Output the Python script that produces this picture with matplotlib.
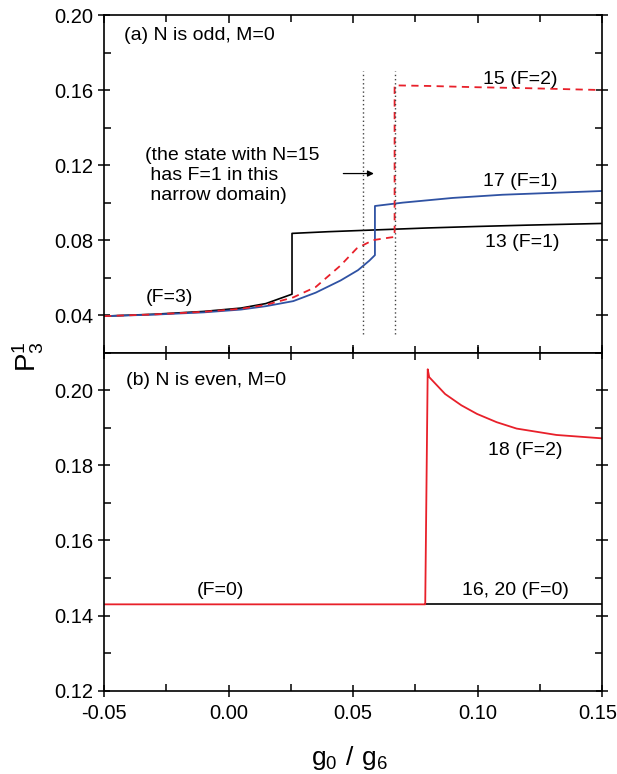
import matplotlib
matplotlib.use("Agg")
import matplotlib.pyplot as plt
import matplotlib.transforms as mtransforms
from matplotlib.ticker import MultipleLocator, FormatStrFormatter

plt.rcParams['font.family'] = ['Liberation Sans', 'DejaVu Sans']
plt.rcParams['mathtext.fontset'] = 'custom'
plt.rcParams['mathtext.rm'] = 'Liberation Sans'

# ---- panel (a): N odd, M=0 ----
x13 = [-0.05, -0.03, -0.01, 0.005, 0.015, 0.0255, 0.0255, 0.04, 0.06, 0.08, 0.10, 0.12, 0.15]
y13 = [0.0395, 0.0405, 0.042, 0.0438, 0.0462, 0.0512, 0.0836, 0.0845, 0.0855, 0.0865, 0.0873, 0.0880, 0.0889]

x17 = [-0.05, -0.03, -0.01, 0.005, 0.015, 0.026, 0.035, 0.045, 0.052, 0.0565, 0.0588, 0.0588,
       0.07, 0.09, 0.11, 0.13, 0.15]
y17 = [0.0395, 0.0403, 0.0415, 0.043, 0.0448, 0.0475, 0.052, 0.0585, 0.064, 0.069, 0.072, 0.0982,
       0.100, 0.1025, 0.1042, 0.1052, 0.1062]

x15 = [-0.05, -0.03, -0.01, 0.005, 0.015, 0.026, 0.035, 0.045, 0.0515, 0.058, 0.0649, 0.0667, 0.0667,
       0.08, 0.10, 0.12, 0.15]
y15 = [0.0395, 0.0404, 0.0418, 0.0434, 0.0455, 0.0495, 0.055, 0.0665, 0.0756, 0.080, 0.0814, 0.0817, 0.1625,
       0.1622, 0.1615, 0.161, 0.160]

dotted_x = [0.054, 0.0667]
dotted_y = [0.030, 0.170]

# ---- panel (b): N even, M=0 ----
x18 = [-0.05, 0.079, 0.0800, 0.0806, 0.087, 0.0935, 0.0998, 0.1077, 0.1157, 0.1317, 0.15]
y18 = [0.143, 0.143, 0.2056, 0.2035, 0.199, 0.196, 0.1937, 0.1915, 0.1898, 0.1881, 0.1872]

x1620 = [0.079, 0.15]
y1620 = [0.143, 0.143]

xticks = [-0.05, 0.0, 0.05, 0.10, 0.15]

red = '#e8202a'
blue = '#2f52a3'

fig = plt.figure(figsize=(6.17, 7.74), dpi=100)
ax1 = fig.add_axes([0.1686, 0.5443, 0.8071, 0.4363])
ax2 = fig.add_axes([0.1686, 0.1076, 0.8071, 0.4367], sharex=ax1)

ax1.plot(x13, y13, color='black', lw=1.2)
ax1.plot(x17, y17, color=blue, lw=1.3)
ax1.plot(x15, y15, color=red, lw=1.3, ls=(0, (4, 3)))
for xv in dotted_x:
    ax1.plot([xv, xv], dotted_y, color='#444444', lw=1.0, ls=(0, (1, 2)))

ax1.annotate('', xy=(0.0595, 0.1155), xytext=(0.045, 0.1155),
             arrowprops=dict(arrowstyle='-|>', color='black', lw=0.9, mutation_scale=9))

fs = 14
ax1.text(-0.0418, 0.189, '(a) N is odd, M=0', fontsize=fs, va='center')
ax1.text(-0.0335, 0.1145, '(the state with N=15\n has F=1 in this\n narrow domain)',
         fontsize=fs, va='center', linespacing=1.2)
ax1.text(0.1173, 0.1657, '15 (F=2)', fontsize=fs, ha='center', va='center')
ax1.text(0.117, 0.1111, '17 (F=1)', fontsize=fs, ha='center', va='center')
ax1.text(0.118, 0.0786, '13 (F=1)', fontsize=fs, ha='center', va='center')
ax1.text(-0.0239, 0.0494, '(F=3)', fontsize=fs, ha='center', va='center')

ax2.plot(x1620, y1620, color='black', lw=1.2)
ax2.plot(x18, y18, color=red, lw=1.3)
ax2.text(-0.041, 0.2025, '(b) N is even, M=0', fontsize=fs, va='center')
ax2.text(-0.0032, 0.1466, '(F=0)', fontsize=fs, ha='center', va='center')
ax2.text(0.1153, 0.1466, '16, 20 (F=0)', fontsize=fs, ha='center', va='center')
ax2.text(0.119, 0.1839, '18 (F=2)', fontsize=fs, ha='center', va='center')

ax1.set_xlim(-0.05, 0.15)
ax1.set_ylim(0.02, 0.20)
ax2.set_ylim(0.12, 0.21)

ax1.yaxis.set_major_locator(MultipleLocator(0.04))
ax1.yaxis.set_minor_locator(MultipleLocator(0.02))
ax2.yaxis.set_major_locator(MultipleLocator(0.02))
ax2.yaxis.set_minor_locator(MultipleLocator(0.01))
ax2.set_xticks(xticks)
ax2.xaxis.set_minor_locator(MultipleLocator(0.025))
ax2.xaxis.set_major_formatter(FormatStrFormatter('%.2f'))
ax1.yaxis.set_major_formatter(FormatStrFormatter('%.2f'))
ax2.yaxis.set_major_formatter(FormatStrFormatter('%.2f'))

for ax in (ax1, ax2):
    for s in ax.spines.values():
        s.set_linewidth(1.2)
    ax.tick_params(which='major', direction='inout', length=9, width=1.1,
                   top=True, right=True, labelsize=14.5)
    ax.tick_params(which='minor', direction='in', length=5, width=1.1,
                   top=True, right=True)
ax1.tick_params(axis='x', which='both', labelbottom=False, direction='in')
ax1.tick_params(axis='x', which='major', length=6)
ax2.tick_params(axis='x', which='major', top=True, pad=5)
ax2.tick_params(axis='x', which='minor', top=True, direction='in')

# keep the last x tick label inside the figure edge
fig.canvas.draw()
for lab in ax2.get_xticklabels():
    if lab.get_text() == '0.15':
        lab.set_transform(lab.get_transform() +
                          mtransforms.ScaledTranslation(-4 / 100, 0, fig.dpi_scale_trans))

fig.text(0.046, 0.539, r'$\mathregular{P^1_3}$', fontsize=20, rotation=90,
         ha='center', va='center')
fig.text(0.567, 0.021, r'$\mathregular{g_0\ /\ g_6}$', fontsize=19,
         ha='center', va='center')

fig.savefig('out.png', dpi=100)
